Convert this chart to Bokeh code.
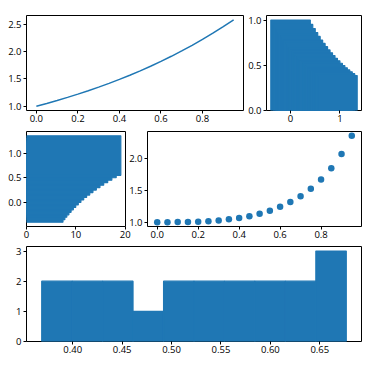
from bokeh.plotting import figure
from bokeh.layouts import column, row
from bokeh.models import Range1d, PrintfTickFormatter
from bokeh.embed import file_html
from bokeh.resources import INLINE

# ---- data ----
x_vals = [0.0, 0.05, 0.1, 0.15, 0.2, 0.25, 0.3, 0.35, 0.4, 0.45,
          0.5, 0.55, 0.6, 0.65, 0.7, 0.75, 0.8, 0.85, 0.9, 0.95]
line_y = [1.0, 1.051, 1.105, 1.162, 1.221, 1.284, 1.350, 1.419, 1.492, 1.568,
          1.649, 1.733, 1.822, 1.916, 2.014, 2.117, 2.226, 2.340, 2.460, 2.586]
bar_heights = [1.0, 0.951, 0.905, 0.861, 0.819, 0.779, 0.741, 0.705, 0.670, 0.638,
               0.607, 0.577, 0.549, 0.522, 0.497, 0.472, 0.449, 0.427, 0.407, 0.387]
barh_lengths = [7.39, 7.77, 8.17, 8.59, 9.03, 9.49, 9.97, 10.49, 11.02, 11.59,
                12.18, 12.81, 13.46, 14.15, 14.88, 15.64, 16.45, 17.29, 18.17, 19.11]
scatter_y = [1.0, 1.0, 1.001, 1.003, 1.008, 1.016, 1.027, 1.044, 1.066, 1.095,
             1.133, 1.181, 1.241, 1.316, 1.409, 1.525, 1.669, 1.848, 2.073, 2.357]
hist_edges = [0.3686, 0.3994, 0.4302, 0.4610, 0.4919, 0.5227,
              0.5535, 0.5843, 0.6151, 0.6460, 0.6768]
hist_counts = [2, 2, 2, 1, 2, 2, 2, 2, 2, 3]

x1_ticks = [0.0, 0.2, 0.4, 0.6, 0.8]
y1_ticks = [1.0, 1.5, 2.0, 2.5]
x2_ticks = [0, 1]
y2_ticks = [0.0, 0.5, 1.0]
x3_ticks = [0, 10, 20]
y3_ticks = [0.0, 0.5, 1.0]
x4_ticks = [0.0, 0.2, 0.4, 0.6, 0.8]
y4_ticks = [1.0, 1.5, 2.0]
x5_ticks = [0.40, 0.45, 0.50, 0.55, 0.60, 0.65]
y5_ticks = [0, 1, 2, 3]

BLUE = "#1f77b4"
FONT = "Open Sans"
FSIZE = "9.5px"


def make_fig(w, h, left, right, top, bottom, xr, yr, **kw):
    p = figure(width=w, height=h, output_backend="svg", toolbar_location=None,
               x_range=Range1d(*xr), y_range=Range1d(*yr),
               min_border_left=left, min_border_right=right,
               min_border_top=top, min_border_bottom=bottom,
               border_fill_color=None, background_fill_color="white", **kw)
    p.grid.visible = False
    p.outline_line_color = "black"
    p.outline_line_width = 1
    p.outline_line_alpha = 1
    for ax in (p.xaxis, p.yaxis):
        ax.axis_line_color = None
        ax.major_tick_line_color = "black"
        ax.major_tick_line_width = 1
        ax.major_tick_out = 3
        ax.major_tick_in = 0
        ax.minor_tick_line_color = None
        ax.major_label_text_font = FONT
        ax.major_label_text_font_size = FSIZE
        ax.major_label_text_color = "black"
    p.xaxis.major_label_standoff = 1
    p.yaxis.major_label_standoff = 2
    return p


def set_ticks(p, xt, yt, xfmt, yfmt):
    p.xaxis.ticker = xt
    p.yaxis.ticker = yt
    p.xaxis.formatter = PrintfTickFormatter(format=xfmt)
    p.yaxis.formatter = PrintfTickFormatter(format=yfmt)


# panel 1: line
p1 = make_fig(245, 128, 26, 2, 15, 18, (-0.0475, 0.9975), (0.9207, 2.665))
p1.line(x_vals, line_y, line_width=1.5, color=BLUE)
set_ticks(p1, x1_ticks, y1_ticks, "%.1f", "%.1f")

# panel 2: overlapping vertical bars
p2 = make_fig(126, 128, 18, 10, 15, 18, (-0.4875, 1.4375), (0, 1.05))
p2.vbar(x=x_vals, top=bar_heights, width=0.8, bottom=0, color=BLUE,
        line_color=BLUE, line_width=1.2)
set_ticks(p2, x2_ticks, y2_ticks, "%d", "%.1f")

# panel 3: overlapping horizontal bars
p3 = make_fig(132, 116, 26, 7, 3, 18, (0, 20.06), (-0.4875, 1.4375))
p3.hbar(y=x_vals, right=barh_lengths, left=0, height=0.8, color=BLUE,
        line_color=BLUE, line_width=1.2)
set_ticks(p3, x3_ticks, y3_ticks, "%d", "%.1f")

# panel 4: scatter
p4 = make_fig(245, 116, 19, 10, 3, 18, (-0.0475, 0.9975), (0.932, 2.425),
              margin=(0, 0, 0, -6))
p4.scatter(x_vals, scatter_y, size=6.5, color=BLUE, line_color=None)
set_ticks(p4, x4_ticks, y4_ticks, "%.1f", "%.1f")

# panel 5: histogram
p5 = make_fig(371, 117, 26, 10, 2, 20, (0.3532, 0.6922), (0, 3.15))
p5.quad(left=hist_edges[:-1], right=hist_edges[1:], top=hist_counts, bottom=0,
        color=BLUE, line_color=BLUE, line_width=1.2)
set_ticks(p5, x5_ticks, y5_ticks, "%.2f", "%d")

layout = column(row(p1, p2, spacing=0), row(p3, p4, spacing=0), p5, spacing=0)

open("out.html", "w").write(file_html(layout, INLINE))
